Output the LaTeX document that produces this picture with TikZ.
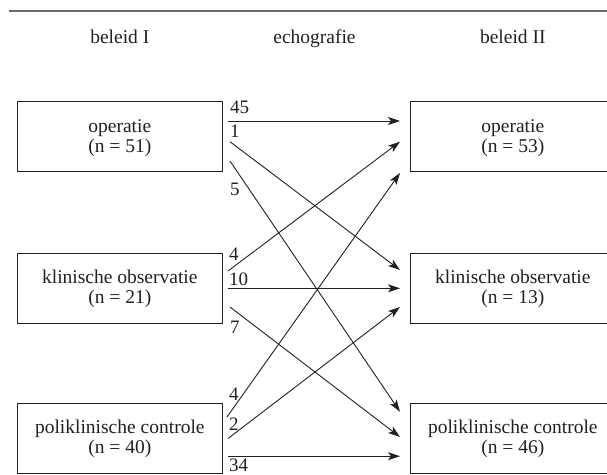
\documentclass[tikz,border=0pt]{standalone}
\usepackage{fontspec}
\setmainfont{Liberation Serif}
\usetikzlibrary{arrows.meta}
\definecolor{ink}{HTML}{231F20}
\definecolor{rulegray}{HTML}{6B6B6B}
\tikzset{
  box/.style={draw=ink, line width=0.9pt, minimum width=205.7pt, minimum height=70pt,
    inner sep=0pt, align=center, text=ink, font=\fontsize{19.5}{20}\selectfont},
  head/.style={anchor=base, text=ink, inner sep=0pt, font=\fontsize{19.5}{20}\selectfont},
  num/.style={anchor=base west, text=ink, inner sep=0pt, font=\fontsize{19}{20}\selectfont},
  flow/.style={draw=ink, line width=0.9pt, -{Stealth[length=12pt,width=8pt,inset=3pt]}},
}
\newcommand{\topstrut}{\rule{0pt}{16pt}}
\begin{document}
\begin{tikzpicture}[x=1pt,y=-1pt]
\clip (0,0) rectangle (607,474);
% top rule
\coordinate (rl) at (9,11);
\coordinate (rr) at (620,11);
\draw[rulegray, line width=2pt] (rl) -- (rr);
% headers
\node[head] (h1) at (119.8,43) {beleid I};
\node[head] (h2) at (314.5,43) {echografie};
\node[head] (h3) at (512.8,43) {beleid II};
% left boxes
\node[box] (l1) at (119.8,136.8) {\topstrut operatie\\(n = 51)};
\node[box] (l2) at (119.8,288) {\topstrut klinische observatie\\(n = 21)};
\node[box] (l3) at (119.8,438) {\topstrut poliklinische controle\\(n = 40)};
% right boxes
\node[box] (r1) at (512.8,136.8) {\topstrut operatie\\(n = 53)};
\node[box] (r2) at (512.8,288) {\topstrut klinische observatie\\(n = 13)};
\node[box] (r3) at (512.8,438) {\topstrut poliklinische controle\\(n = 46)};
% start and end points
\coordinate (s45) at (228,121);   \coordinate (e45) at (400,121);
\coordinate (s1)  at (230,141.7); \coordinate (e1)  at (400,270);
\coordinate (s5)  at (230,161);   \coordinate (e5)  at (400,411.7);
\coordinate (s4a) at (228,271);   \coordinate (e4a) at (400,141.7);
\coordinate (s10) at (228,288.3); \coordinate (e10) at (400,288.3);
\coordinate (s7)  at (230,307);   \coordinate (e7)  at (400,437);
\coordinate (s4b) at (227,417);   \coordinate (e4b) at (400,173);
\coordinate (s2)  at (228,438.5); \coordinate (e2)  at (400,307);
\coordinate (s34) at (228,456.2); \coordinate (e34) at (400,456.2);
% connectors
\draw[flow] (s45) -- (e45);
\draw[flow] (s1) -- (e1);
\draw[flow] (s5) -- (e5);
\draw[flow] (s4a) -- (e4a);
\draw[flow] (s10) -- (e10);
\draw[flow] (s7) -- (e7);
\draw[flow] (s4b) -- (e4b);
\draw[flow] (s2) -- (e2);
\draw[flow] (s34) -- (e34);
% numbers
\node[num] (n45) at (230,113) {45};
\node[num] (n1)  at (230,137) {1};
\node[num] (n5)  at (230,195) {5};
\node[num] (n4a) at (229,260) {4};
\node[num] (n10) at (229,285) {10};
\node[num] (n7)  at (230,333) {7};
\node[num] (n4b) at (229,400) {4};
\node[num] (n2)  at (229,430) {2};
\node[num] (n34) at (229,471.3) {34};
\end{tikzpicture}
\end{document}
